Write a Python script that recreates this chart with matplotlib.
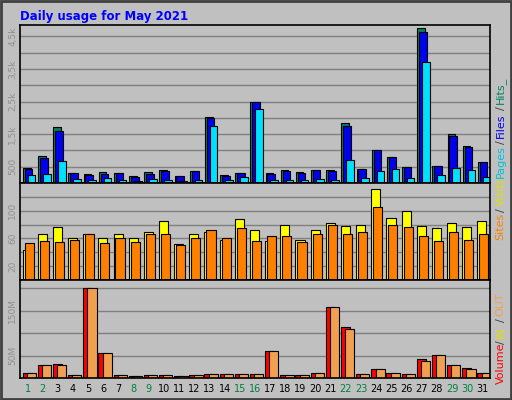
import matplotlib
matplotlib.use("Agg")
import matplotlib.pyplot as plt
import numpy as np

days = list(range(1, 32))
weekend = [1, 2, 8, 9, 15, 16, 22, 23, 29, 30]

hits = [470, 840, 1720, 310, 280, 340, 310, 220, 340, 400, 220, 375, 2030, 250, 310, 2480,
        310, 400, 340, 400, 400, 1840, 440, 1000, 810, 500, 4750, 530, 1500, 1125, 655]
files = [430, 780, 1590, 310, 240, 280, 310, 190, 280, 375, 220, 375, 1990, 220, 310, 2480,
         280, 375, 310, 400, 375, 1750, 440, 1000, 810, 500, 4625, 530, 1440, 1090, 655]
pages = [240, 270, 690, 125, 95, 155, 95, 65, 125, 95, 65, 95, 1750, 95, 190, 2280,
         95, 95, 95, 125, 95, 700, 155, 375, 440, 155, 3720, 250, 470, 405, 190]

visits = [43, 67, 76, 61, 66, 61, 66, 60, 70, 85, 52, 67, 70, 58, 88, 72,
          57, 79, 58, 72, 82, 78, 79, 132, 90, 99, 78, 75, 82, 76, 85]
sites = [54, 57, 55, 58, 67, 54, 61, 55, 67, 67, 51, 60, 72, 60, 75, 57,
         63, 64, 55, 66, 79, 67, 70, 105, 79, 76, 63, 57, 70, 58, 66]

volume = [11, 28, 31, 7.5, 201, 56, 7.5, 5, 7.5, 7.5, 5, 7.5, 10, 10, 10, 10,
          61, 7.5, 7.5, 12, 159, 113, 10, 19, 12, 10, 43, 52, 30, 23, 12]
vol_out = [11, 28, 30, 7.5, 201, 56, 7.5, 5, 7.5, 7.5, 4.5, 7.5, 10, 10, 10, 10,
           61, 7.5, 7.5, 12, 159, 110, 10, 19, 12, 10, 38, 52, 28, 21, 12]

bg = "#C0C0C0"
grid_c = "#808080"
d = np.array(days)

fig = plt.figure(figsize=(5.12, 4.0), dpi=100, facecolor=bg)
# bevel border
fig.patches.append(plt.Rectangle((0.002, 0.002), 0.996, 0.996, transform=fig.transFigure,
                                 fill=False, edgecolor="#404040", lw=2))
fig.text(0.04, 0.975, "Daily usage for May 2021", color="#0000FF", fontsize=8.5,
         fontweight="bold", va="top", ha="left")


def style(ax, ylim, ticks, labels):
    ax.set_facecolor(bg)
    ax.set_xlim(0.5, 31.5)
    ax.set_ylim(*ylim)
    ax.set_yticks(ticks)
    ax.set_yticklabels(labels, rotation=90, va="center", color="#909090", fontsize=6.5)
    ax.tick_params(axis="y", length=0, pad=2)
    ax.set_xticks([])
    ax.grid(axis="y", color=grid_c, lw=1)
    ax.set_axisbelow(True)
    for s in ax.spines.values():
        s.set_color("black")
        s.set_linewidth(1.2)


ax1 = fig.add_axes([0.039, 0.5425, 0.918, 0.395])
style(ax1, (0, 4850), [500, 1000, 1500, 2000, 2500, 3000, 3500, 4000, 4500],
      ["500", "", "1,5k", "", "2,5k", "", "3,5k", "", "4,5k"])
ax1.bar(d - 0.3, hits, width=0.5, align="edge", color="#00805F", edgecolor="black", lw=0.8)
ax1.bar(d - 0.18, files, width=0.5, align="edge", color="#0000EE", edgecolor="black", lw=0.8)
ax1.bar(d + 0.02, pages, width=0.5, align="edge", color="#00E0FF", edgecolor="black", lw=0.8)

ax2 = fig.add_axes([0.039, 0.30, 0.918, 0.2425])
style(ax2, (0, 140), [20, 40, 60, 80, 100, 120], ["20", "", "60", "", "100", ""])
ax2.bar(d - 0.33, visits, width=0.6, align="edge", color="#FFFF00", edgecolor="black", lw=0.8)
ax2.bar(d - 0.2, sites, width=0.6, align="edge", color="#FF8000", edgecolor="black", lw=0.8)

ax3 = fig.add_axes([0.039, 0.055, 0.918, 0.245])
style(ax3, (0, 218), [50, 100, 150, 200], ["50M", "", "150M", ""])
ax3.bar(d - 0.33, volume, width=0.6, align="edge", color="#FF0000", edgecolor="black", lw=0.8)
ax3.bar(d - 0.05, vol_out, width=0.6, align="edge", color="#F0A050", edgecolor="black", lw=0.8)

for day in days:
    x = 0.039 + 0.918 * (day - 0.5) / 31
    fig.text(x, 0.028, str(day), ha="center", va="center", fontsize=7,
             color="#008040" if day in weekend else "black")


def vlabel(parts, y0):
    y = y0
    for txt, col, h in parts:
        fig.text(0.978, y, txt, rotation=90, color=col, fontsize=8,
                 ha="center", va="bottom")
        y += h


vlabel([("Pages", "#00C0E0", 0.085), ("/", "#404040", 0.015), ("Files", "#0000EE", 0.07),
        ("/", "#404040", 0.015), ("Hits_", "#008060", 0.08)], 0.555)
vlabel([("Sites", "#FF8000", 0.07), ("/", "#404040", 0.015), ("Visits", "#E0E000", 0.08)], 0.40)
vlabel([("Volume", "#FF0000", 0.10), ("/", "#404040", 0.015), ("IN", "#E0E000", 0.04),
        ("/", "#404040", 0.015), ("OUT", "#F0A050", 0.06)], 0.04)

fig.savefig("out.png", dpi=100, facecolor=bg)
